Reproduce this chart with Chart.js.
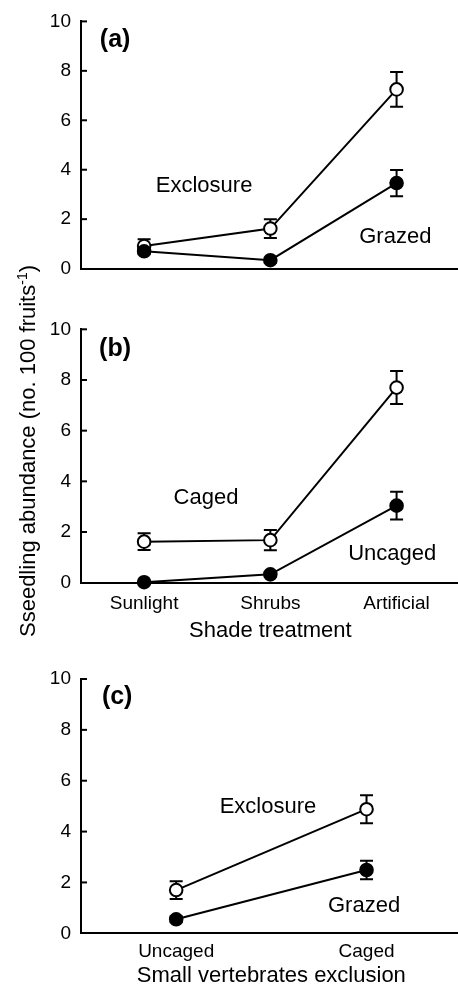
<!DOCTYPE html>
<html><head><meta charset="utf-8">
<script src="https://cdn.jsdelivr.net/npm/chart.js@4"></script>
<style>
html,body{margin:0;padding:0;background:#fff;overflow:hidden;width:458px;height:994px;position:relative;}
canvas{position:absolute;left:0;}
</style></head><body>
<canvas id="ca" width="468" height="290" style="top:0px"></canvas>
<canvas id="cb" width="468" height="405" style="top:250px"></canvas>
<canvas id="cc" width="470" height="339" style="top:655px"></canvas>
<script>
// ---- data ----
const shadeCategories = ['Sunlight', 'Shrubs', 'Artificial'];
const exclusionCategories = ['Uncaged', 'Caged'];
const yTickValues = [0, 2, 4, 6, 8, 10];

const aExclosure = [0.91, 1.62, 7.25];
const aExclosureErr = [0.28, 0.38, 0.70];
const aGrazed = [0.70, 0.34, 3.46];
const aGrazedErr = [0.12, 0.10, 0.53];

const bCaged = [1.62, 1.68, 7.70];
const bCagedErr = [0.33, 0.40, 0.65];
const bUncaged = [0.02, 0.33, 3.04];
const bUncagedErr = [0.0, 0.10, 0.55];

const cExclosure = [1.70, 4.88];
const cExclosureErr = [0.35, 0.55];
const cGrazed = [0.55, 2.49];
const cGrazedErr = [0.12, 0.36];

const yTitleMain = 'Sseedling abundance (no. 100 fruits';
const yTitleSup = '-1';
const yTitleEnd = ')';

// annotation texts (placed in data coordinates)
const aNotes = [{text: '(a)', x: -0.23, y: 9.25, bold: true}, {text: 'Exclosure', x: 0.475, y: 3.34}, {text: 'Grazed', x: 1.99, y: 1.29}];
const bNotes = [{text: '(b)', x: -0.23, y: 9.21, bold: true}, {text: 'Caged', x: 0.49, y: 3.33}, {text: 'Uncaged', x: 1.965, y: 1.12}];
const cNotes = [{text: '(c)', x: -0.31, y: 9.29, bold: true}, {text: 'Exclosure', x: 0.482, y: 4.98}, {text: 'Grazed', x: 0.987, y: 1.085}];

const FONT = '"Liberation Sans", Arial, Helvetica, sans-serif';
Chart.defaults.font.family = FONT;
Chart.defaults.color = '#000';

const errorBarPlugin = {
  id: 'errorBars',
  beforeDatasetsDraw(chart) {
    const ctx = chart.ctx, ys = chart.scales.y;
    ctx.save();
    ctx.strokeStyle = '#000';
    ctx.lineWidth = 2;
    chart.data.datasets.forEach((ds, di) => {
      const meta = chart.getDatasetMeta(di);
      ds.errorBars.forEach((e, i) => {
        if (!e) return;
        const v = ds.data[i];
        const x = meta.data[i].x;
        const yt = ys.getPixelForValue(v + e), yb = ys.getPixelForValue(v - e);
        ctx.beginPath();
        ctx.moveTo(x, yt); ctx.lineTo(x, yb);
        ctx.moveTo(x - 6.5, yt); ctx.lineTo(x + 6.5, yt);
        ctx.moveTo(x - 6.5, yb); ctx.lineTo(x + 6.5, yb);
        ctx.stroke();
      });
    });
    ctx.restore();
  }
};

const inwardTicksPlugin = {
  id: 'inwardTicks',
  afterDraw(chart) {
    const ctx = chart.ctx, ys = chart.scales.y, left = chart.chartArea.left;
    ctx.save();
    ctx.strokeStyle = '#000';
    ctx.lineWidth = 2;
    yTickValues.forEach(v => {
      if (v === 0) return;
      const y = ys.getPixelForValue(v);
      ctx.beginPath(); ctx.moveTo(left, y); ctx.lineTo(left + 6, y); ctx.stroke();
    });
    ctx.restore();
  }
};

const notesPlugin = {
  id: 'notes',
  afterDatasetsDraw(chart, args, opts) {
    const ctx = chart.ctx, xs = chart.scales.x, ys = chart.scales.y;
    ctx.save();
    ctx.fillStyle = '#000';
    ctx.textAlign = 'center';
    ctx.textBaseline = 'middle';
    (opts.items || []).forEach(n => {
      ctx.font = n.bold ? ('bold 25px ' + FONT) : ('22px ' + FONT);
      ctx.fillText(n.text, xs.getPixelForValue(n.x), ys.getPixelForValue(n.y));
    });
    ctx.restore();
  }
};

const yTitlePlugin = {
  id: 'yTitle',
  afterDraw(chart, args, opts) {
    if (!opts.show) return;
    const ctx = chart.ctx, ys = chart.scales.y;
    const cy = (ys.top + ys.bottom) / 2 + opts.shift;
    ctx.save();
    ctx.fillStyle = '#000';
    ctx.textBaseline = 'alphabetic';
    ctx.textAlign = 'left';
    const mainFont = '22px ' + FONT, supFont = '14px ' + FONT;
    ctx.font = mainFont; const w1 = ctx.measureText(yTitleMain).width; const w3 = ctx.measureText(yTitleEnd).width;
    ctx.font = supFont; const w2 = ctx.measureText(yTitleSup).width;
    const total = w1 + w2 + w3;
    ctx.translate(opts.x, cy);
    ctx.rotate(-Math.PI / 2);
    let sx = -total / 2;
    ctx.font = mainFont; ctx.fillText(yTitleMain, sx, 0); sx += w1;
    ctx.font = supFont; ctx.fillText(yTitleSup, sx, -8); sx += w2;
    ctx.font = mainFont; ctx.fillText(yTitleEnd, sx, 0);
    ctx.restore();
  }
};

function series(data, errs, fill) {
  return {
    data: data, errorBars: errs,
    borderColor: '#000', backgroundColor: fill, borderWidth: 2,
    pointBackgroundColor: fill, pointBorderColor: '#000',
    pointRadius: 6.3, pointBorderWidth: 2, pointHoverRadius: 6.3,
    tension: 0, clip: false
  };
}

function panel(id, labels, openData, openErr, filledData, filledErr, notes, cfg) {
  new Chart(document.getElementById(id), {
    type: 'line',
    data: {
      labels: labels,
      datasets: [series(filledData, filledErr, '#000'), series(openData, openErr, '#fff')]
    },
    plugins: [errorBarPlugin, inwardTicksPlugin, notesPlugin, yTitlePlugin],
    options: {
      responsive: false, animation: false, devicePixelRatio: 1,
      layout: {padding: {left: 0, right: 0, top: cfg.padTop, bottom: 0}},
      plugins: {
        legend: {display: false}, tooltip: {enabled: false},
        notes: {items: notes},
        yTitle: {show: !!cfg.yTitle, x: 35, shift: -5}
      },
      scales: {
        x: {
          type: 'category', offset: true,
          grid: {display: false, drawTicks: false},
          border: {display: true, color: '#000', width: 2},
          ticks: {display: cfg.showXLabels, padding: cfg.xTickPad || 0, font: {size: 19}, color: '#000', maxRotation: 0, autoSkip: false},
          title: {display: !!cfg.xTitle, text: cfg.xTitle || '', font: {size: 22}, color: '#000', padding: {top: 0, bottom: cfg.xTitlePad || 0}},
          afterFit: s => { s.height = cfg.xHeight; }
        },
        y: {
          min: 0, max: 10,
          grid: {display: false, drawTicks: false},
          border: {display: true, color: '#000', width: 2},
          ticks: {stepSize: 2, padding: 10, font: {size: 19}, color: '#000',
                  callback: v => yTickValues.includes(v) ? String(v) : ''},
          afterFit: s => { s.width = 81; }
        }
      }
    }
  });
}

panel('ca', shadeCategories, aExclosure, aExclosureErr, aGrazed, aGrazedErr, aNotes,
      {padTop: 15.7, xHeight: 17.7, showXLabels: false});
panel('cb', shadeCategories, bCaged, bCagedErr, bUncaged, bUncagedErr, bNotes,
      {padTop: 79.3, xHeight: 72.3, showXLabels: true, xTickPad: 9.5, xTitle: 'Shade treatment', xTitlePad: 11, yTitle: true});
panel('cc', exclusionCategories, cExclosure, cExclosureErr, cGrazed, cGrazedErr, cNotes,
      {padTop: 24, xHeight: 60.7, showXLabels: true, xTickPad: 7, xTitle: 'Small vertebrates exclusion', xTitlePad: 5});
</script>
</body></html>
